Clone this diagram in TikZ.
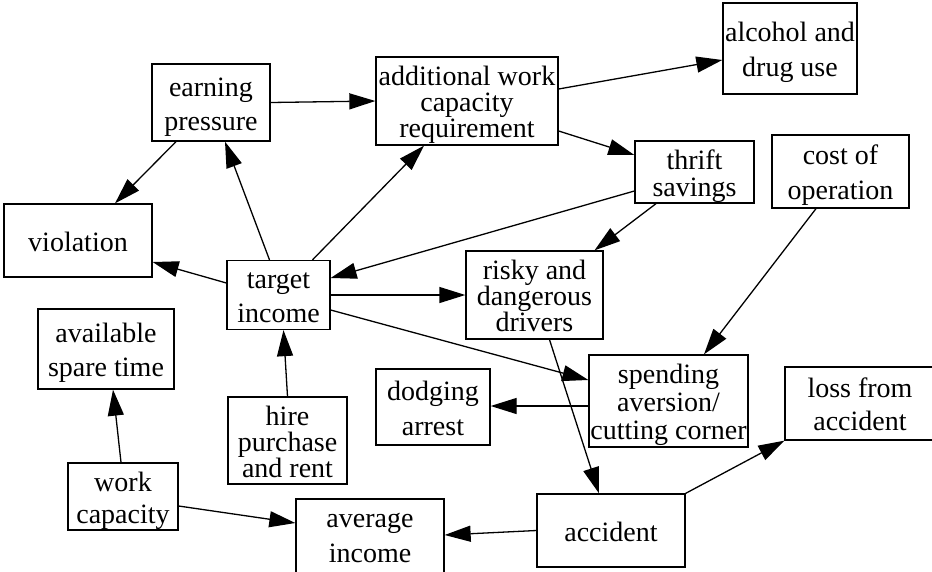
\documentclass[tikz,border=0pt]{standalone}
\usepackage{fontspec}
\setmainfont{Liberation Serif}
\usetikzlibrary{arrows.meta}

% label text with a fixed top and bottom strut, so every box centres its
% lines the same way regardless of ascenders and descenders;
% the optional argument is the bottom strut depth
\newcommand\boxtext[2][7]{\rule{0pt}{28pt}#2\rule[-#1pt]{0pt}{#1pt}}

\tikzset{
  box/.style args={#1/#2/#3}{draw, rectangle, line width=1.3pt, inner sep=0pt,
    minimum width=#1pt, minimum height=#2pt, align=center,
    font=\fontsize{28}{#3}\selectfont},
  link/.style={line width=1.3pt, -{Triangle[length=26pt,width=16pt]}}
}

\begin{document}
\begin{tikzpicture}[x=1pt,y=-1pt]
\useasboundingbox (0,0) rectangle (932,571);
\clip (0,0) rectangle (932,571);

% boxes
\node[box=118/77/34]  (ep) at (211,102.5)   {\boxtext{earning\\pressure}};
\node[box=182/88/26]  (aw) at (467,101)     {\boxtext{additional work\\capacity\\requirement}};
\node[box=134/91/35]  (al) at (790,48.5)    {\boxtext{alcohol and\\drug use}};
\node[box=119/62/27]  (ts) at (694.5,172)   {\boxtext{thrift\\savings}};
\node[box=137/73/35]  (co) at (840.5,171.5) {\boxtext{cost of\\operation}};
\node[box=148/73/34]  (vi) at (78,240.5)    {\boxtext{violation}};
\node[box=103/66/34]  (ti) at (278.5,295)   {\boxtext{target\\income}};
\node[box=137/88/25]  (rd) at (534.5,295)   {\boxtext{risky and\\dangerous\\drivers}};
\node[box=136/80/34]  (as) at (106,349)     {\boxtext{available\\spare time}};
\node[box=119/87/26]  (hp) at (287.5,440.5) {\boxtext{hire\\purchase\\and rent}};
\node[box=114/76/35]  (da) at (433,407)     {\boxtext{dodging\\arrest}};
\node[box=159/92/28]  (sp) at (668.5,401)   {\boxtext{spending\\aversion/\\cutting corner}};
\node[box=150/73/33]  (la) at (860,403.5)   {\boxtext{loss from\\accident}};
\node[box=110/65/32]  (wc) at (123,496.5)   {\boxtext{work\\capacity}};
\node[box=148/80/35]  (ai) at (370,539)     {\boxtext[17]{average\\income}};
\node[box=148/73/34]  (ac) at (611,530.5)   {\boxtext{accident}};

% connectors
\draw[link] (ep.east) -- (aw.west);
\draw[link] ([xshift=-35pt]ep.south) -- ([xshift=37pt]vi.north);
\draw[link] ([xshift=-9pt]ti.north) -- ([xshift=14pt]ep.south);
\draw[link] ([xshift=34pt]ti.north) -- ([xshift=-43pt]aw.south);
\draw[link] ([yshift=12pt]ti.west) -- ([yshift=-21.5pt]vi.east);
\draw[link] ([yshift=-19pt]ts.west) -- ([yshift=17pt]ti.east);
\draw[link] ([yshift=12pt]aw.east) -- ([yshift=-11.5pt]al.west);
\draw[link] ([yshift=-30pt]aw.east) -- ([yshift=17pt]ts.west);
\draw[link] ([xshift=-38.5pt]ts.south) -- ([xshift=60pt]rd.north);
\draw[link] (ti.east) -- (rd.west);
\draw[link] ([yshift=-15pt]ti.east) -- ([yshift=21pt]sp.west);
\draw[link] ([xshift=-24.5pt]co.south) -- ([xshift=35.5pt]sp.north);
\draw[link] ([yshift=-5pt]sp.west) -- ([yshift=1pt]da.east);
\draw[link] ([xshift=15pt]rd.south) -- ([xshift=-12pt]ac.north);
\draw[link] (ac.north east) -- (la.south west);
\draw[link] (ac.west) -- ([yshift=4pt]ai.east);
\draw[link] ([yshift=-9.5pt]wc.east) -- ([yshift=16pt]ai.west);
\draw[link] ([xshift=-2pt]wc.north) -- ([xshift=7pt]as.south);
\draw[link] (hp.north) -- ([xshift=5pt]ti.south);
\end{tikzpicture}
\end{document}
